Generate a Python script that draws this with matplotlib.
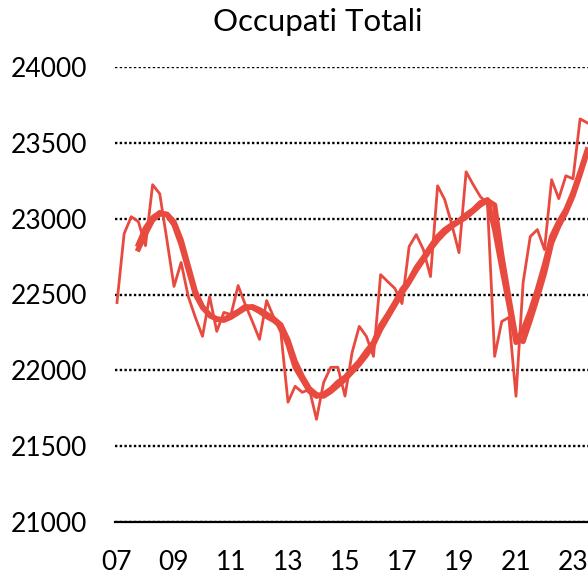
import numpy as np
import matplotlib.pyplot as plt

plt.rcParams['font.family'] = ['Lato', 'DejaVu Sans']

# quarterly values, 2007Q1 onwards (thousands)
quarterly = [22447, 22901, 23013, 22980, 22822, 23224, 23164, 22862, 22553, 22711,
             22487, 22349, 22224, 22487, 22257, 22382, 22368, 22559, 22434, 22322,
             22204, 22460, 22349, 22250, 21790, 21895, 21855, 21875, 21677, 21920,
             22020, 22020, 21830, 22118, 22290, 22224, 22092, 22631, 22585, 22540,
             22440, 22816, 22895, 22796, 22618, 23217, 23125, 22960, 22776, 23309,
             23224, 23145, 23100, 22092, 22322, 22349, 21829, 22579, 22882, 22928,
             22796, 23257, 23132, 23283, 23263, 23658, 23632]

# smoothed series, starting 2007Q4
trend = [22830, 22940, 23006, 23040, 23026, 22960, 22829, 22664, 22500, 22414,
         22368, 22335, 22335, 22362, 22388, 22421, 22414, 22388, 22355, 22329,
         22290, 22171, 22020, 21941, 21862, 21829, 21842, 21875, 21921, 21954,
         22007, 22059, 22125, 22184, 22296, 22368, 22447, 22533, 22592, 22678,
         22743, 22816, 22882, 22928, 22960, 22987, 23026, 23059, 23105, 23125,
         22928, 22678, 22434, 22184, 22270, 22388, 22533, 22697, 22882, 22980,
         23059, 23171, 23309, 23454]

moving_avg = [22800, 22900, 22990, 23030, 23030, 22980, 22860, 22690, 22520, 22420,
              22360, 22340, 22330, 22350, 22380, 22410, 22420, 22400, 22370, 22340,
              22300, 22200, 22060, 21960, 21880, 21840, 21830, 21860, 21900, 21940,
              21990, 22040, 22100, 22170, 22270, 22350, 22430, 22510, 22580, 22660,
              22730, 22800, 22860, 22910, 22950, 22980, 23010, 23050, 23090, 23120,
              23090, 22760, 22480, 22210, 22190, 22330, 22480, 22640, 22840, 22950,
              23040, 23150, 23290, 23440]

year_labels = ["07", "09", "11", "13", "15", "17", "19", "21", "23"]
y_ticks = [21000, 21500, 22000, 22500, 23000, 23500, 24000]

RED = "#E84A3F"

fig = plt.figure(figsize=(5.88, 5.76), dpi=100)
# axes run past the right edge, as in the original
ax = fig.add_axes([115 / 588, 54 / 576, 620 / 588, 455 / 576])

x_q = np.arange(len(quarterly))
x_s = np.arange(3, 3 + len(trend))
ax.plot(x_q, quarterly, color=RED, lw=2.0)
ax.plot(x_s, moving_avg, color=RED, lw=3.8)
ax.plot(x_s, trend, color=RED, lw=3.8)

ax.set_xlim(-0.28, -0.28 + 620 / 7.125)
ax.set_ylim(21000, 24000)
ax.set_yticks(y_ticks)
ax.set_xticks(np.arange(len(year_labels)) * 8)
ax.set_xticklabels(year_labels)
ax.grid(axis='y', color='black', linestyle=(0, (1, 1)), lw=1.7)
ax.set_axisbelow(True)

for side in ['top', 'right', 'left']:
    ax.spines[side].set_visible(False)
ax.spines['bottom'].set_linewidth(1.6)
ax.tick_params(length=0, labelsize=19, pad=20)

fig.text(318 / 588, 1 - 22 / 576, "Occupati Totali", ha='center', va='center', fontsize=22.5)

fig.savefig("out.png", dpi=100)
